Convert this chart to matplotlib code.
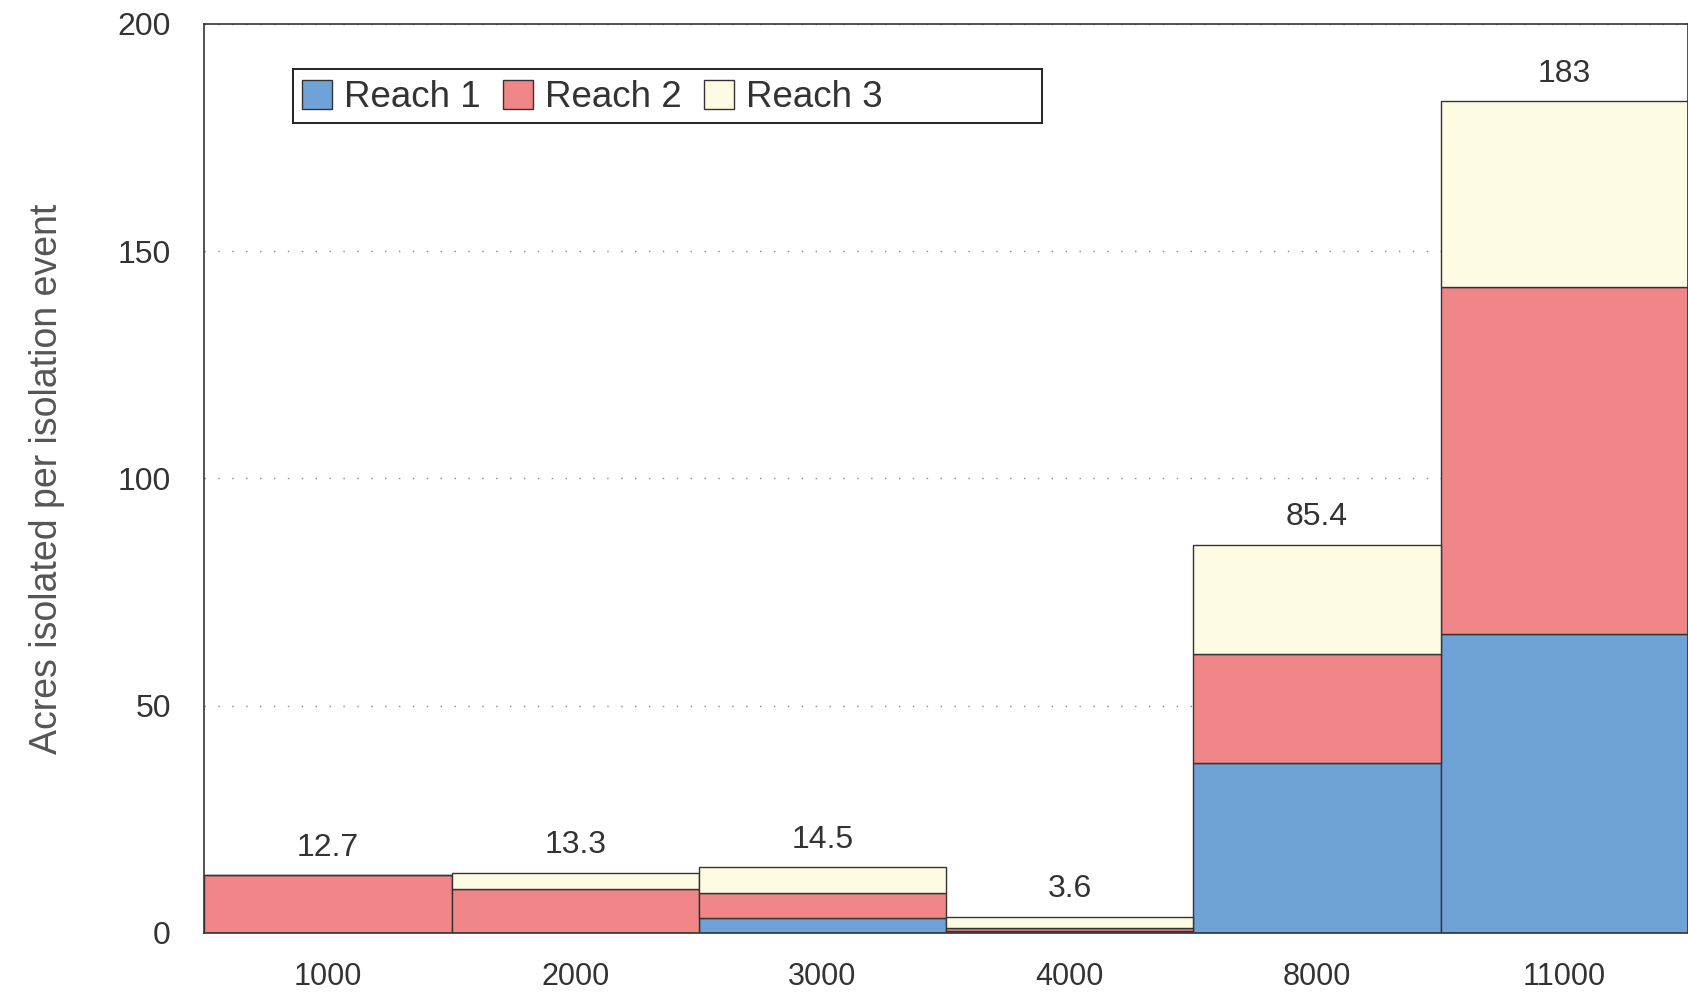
import numpy as np
import matplotlib.pyplot as plt
from matplotlib.patches import Rectangle

plt.rcParams['font.family'] = ['Liberation Sans', 'DejaVu Sans']

categories = ['1000', '2000', '3000', '4000', '8000', '11000']
reach1 = [0.0, 0.0, 3.4, 0.4, 37.4, 65.8]
reach2 = [12.7, 9.7, 5.5, 0.8, 23.9, 76.4]
reach3 = [0.0, 3.6, 5.6, 2.4, 24.1, 40.8]
totals = ['12.7', '13.3', '14.5', '3.6', '85.4', '183']

c1 = '#6fa3d8'
c2 = '#f08688'
c3 = '#fefbe3'
edge = '#333333'
txt = '#333333'

fig = plt.figure(figsize=(16.88, 9.92), dpi=100)
ax = fig.add_axes([0.121, 0.0595, 0.879, 0.9165])

x = np.arange(len(categories))
r1 = np.array(reach1)
r2 = np.array(reach2)
r3 = np.array(reach3)
ax.bar(x, r1, width=1.0, color=c1, edgecolor=edge, linewidth=1.0, label='Reach 1', zorder=2)
ax.bar(x, r2, width=1.0, bottom=r1, color=c2, edgecolor=edge, linewidth=1.0, label='Reach 2', zorder=2)
ax.bar(x, r3, width=1.0, bottom=r1 + r2, color=c3, edgecolor=edge, linewidth=1.0, label='Reach 3', zorder=2)

tot = r1 + r2 + r3
for i in range(len(x)):
    ax.annotate(totals[i], (x[i], tot[i]), xytext=(0, 9), textcoords='offset points',
                ha='center', va='bottom', fontsize=23, color=txt)

ax.set_xlim(-0.5, 5.5)
ax.set_ylim(0, 200)
ax.set_yticks([0, 50, 100, 150, 200])
ax.set_xticks(x)
ax.set_xticklabels(categories)
ax.tick_params(axis='both', length=0, labelcolor=txt)
ax.tick_params(axis='y', pad=24, labelsize=23)
ax.tick_params(axis='x', pad=21, labelsize=22)
ax.yaxis.grid(True, linestyle=(0, (1, 9)), color='#888888', linewidth=1.0, zorder=0)
ax.set_axisbelow(True)
for s in ax.spines.values():
    s.set_color(edge)
    s.set_linewidth(1.2)

ax.set_ylabel('Acres isolated per isolation event', fontsize=27, color='#555555', labelpad=38)

# legend frame drawn separately (box is wider than its entries)
ax.add_patch(Rectangle((0.0595, 0.891), 0.505, 0.059, transform=ax.transAxes,
                       facecolor='white', edgecolor='#222222', linewidth=1.4, zorder=5))
leg = ax.legend(loc='center left', bbox_to_anchor=(0.066, 0.919), ncol=3, fontsize=26.5,
                frameon=False, handlelength=0.82, handleheight=0.82, handletextpad=0.32,
                columnspacing=0.6, borderpad=0, borderaxespad=0, labelcolor=txt)
leg.set_zorder(6)

plt.savefig('out.png', dpi=100)
